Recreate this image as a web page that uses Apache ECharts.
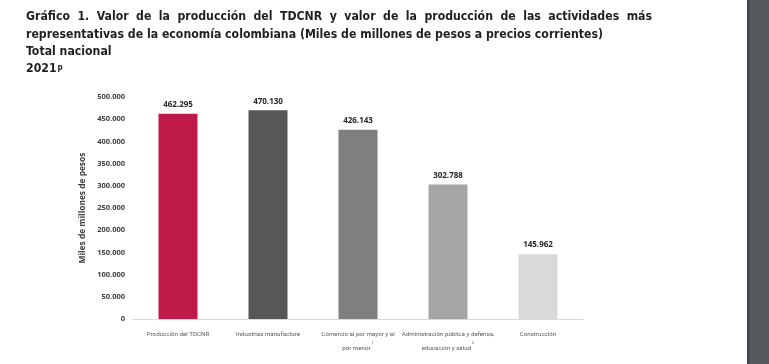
<!DOCTYPE html>
<html>
<head>
<meta charset="utf-8">
<script src="https://cdn.jsdelivr.net/npm/echarts@6/dist/echarts.min.js"></script>
<style>
html,body{margin:0;padding:0;background:#fff;}
#chart{width:769px;height:364px;}
</style>
</head>
<body>
<div id="chart"></div>
<script>
const titleLines = [
  "Gráfico 1. Valor de la producción del TDCNR y valor de la producción de las actividades más",
  "representativas de la economía colombiana (Miles de millones de pesos a precios corrientes)",
  "Total nacional"
];
const yearLabel = "2021";
const yearSup = "p";
const categories = [
  "Producción del TDCNR",
  "Industrias manufacture",
  "Comercio al por mayor y al\npor menor{s|1}",
  "Administración pública y defensa,\neducación y salud{s|2}",
  "Construcción"
];
const values = [462295, 470130, 426143, 302788, 145962];
const barColors = ["#be1a4a", "#575757", "#7f7f7f", "#a5a5a5", "#d9d9d9"];
const yTicks = { min: 0, max: 500000, interval: 50000 };
const yAxisName = "Miles de millones de pesos";

const titleFont = '"DejaVu Sans Condensed", sans-serif';
const TF = 'bold 12.2px ' + titleFont;
const fmt = v => v === 0 ? "0" : String(v).replace(/\B(?=(\d{3})+(?!\d))/g, ".");

const cv = document.createElement("canvas").getContext("2d");
cv.font = TF;
function justified(line, x0, x1, y) {
  const words = line.split(" ");
  const widths = words.map(w => cv.measureText(w).width);
  const total = widths.reduce((a, b) => a + b, 0);
  const gap = (x1 - x0 - total) / (words.length - 1);
  let x = x0;
  return words.map((w, i) => {
    const el = { type: "text", left: x, top: y, style: { text: w, font: TF, fill: "#1f1f1f" } };
    x += widths[i] + gap;
    return el;
  });
}

const graphics = [];
graphics.push(...justified(titleLines[0], 26, 652, 11));
graphics.push({ type: "text", left: 26, top: 29, style: { text: titleLines[1], font: TF, fill: "#1f1f1f" } });
graphics.push({ type: "text", left: 26, top: 46, style: { text: titleLines[2], font: TF, fill: "#1f1f1f" } });
graphics.push({ type: "text", left: 26, top: 63, style: { text: yearLabel, font: TF, fill: "#1f1f1f" } });
graphics.push({ type: "text", left: 26 + cv.measureText(yearLabel).width + 1, top: 64, style: { text: yearSup, font: 'bold 8px ' + titleFont, fill: "#1f1f1f" } });
graphics.push({ type: "rect", right: 0, top: 0, shape: { width: 22, height: 364 }, style: { fill: "#53585b" } });
graphics.push({ type: "rect", left: 747, top: 0, shape: { width: 2, height: 364 }, style: { fill: "#3e4245" } });

const chart = echarts.init(document.getElementById("chart"), null, { renderer: "canvas" });
chart.setOption({
  animation: false,
  backgroundColor: "#ffffff",
  graphic: graphics,
  grid: { left: 133, right: 186, top: 97, bottom: 45, containLabel: false },
  xAxis: {
    type: "category",
    data: categories,
    axisLine: { lineStyle: { color: "#d9d9d9", width: 1 } },
    axisTick: { show: false },
    axisLabel: {
      interval: 0, color: "#595959", fontSize: 6.2, lineHeight: 14, margin: 8,
      fontFamily: 'Roboto, sans-serif',
      rich: { s: { fontSize: 4, verticalAlign: "top", color: "#595959", padding: [0, 0, 6, 1] } }
    }
  },
  yAxis: {
    type: "value",
    min: yTicks.min, max: yTicks.max, interval: yTicks.interval,
    name: yAxisName, nameLocation: "middle", nameGap: 45, nameRotate: 90,
    nameTextStyle: { fontSize: 8.4, fontWeight: "bold", color: "#404040", fontFamily: '"Open Sans", sans-serif' },
    axisLine: { show: false }, axisTick: { show: false },
    splitLine: { show: false },
    axisLabel: { formatter: fmt, fontSize: 7.5, fontWeight: "bold", color: "#404040", margin: 8, fontFamily: '"Open Sans", sans-serif' }
  },
  series: [{
    type: "bar",
    data: values.map((v, i) => ({ value: v, itemStyle: { color: barColors[i] } })),
    barWidth: 39,
    label: { show: true, position: "top", distance: 5, formatter: p => fmt(p.value), fontSize: 8, fontWeight: "bold", color: "#262626", fontFamily: '"Open Sans", sans-serif' }
  }]
});
</script>
</body>
</html>
